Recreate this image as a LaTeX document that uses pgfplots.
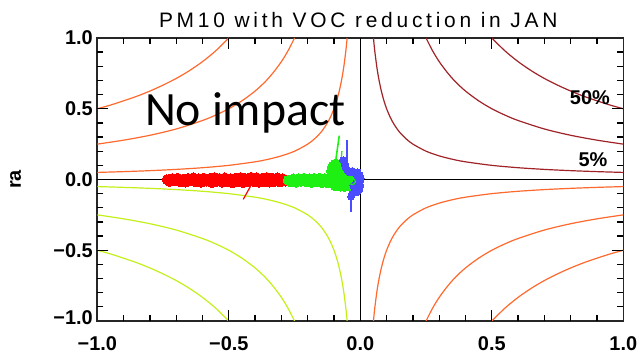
\documentclass[border=0pt]{standalone}
\usepackage{pgfplots}
\pgfplotsset{compat=1.18}
\usepackage{pgfplotstable}
\usepackage{fontspec}
\setmainfont{Liberation Sans}
\newfontfamily\carlito{Carlito}
\definecolor{corange}{RGB}{255,105,45}
\definecolor{cbrown}{RGB}{160,35,40}
\definecolor{cyg}{RGB}{195,240,25}
\definecolor{cred}{RGB}{255,0,0}
\definecolor{cgreen}{RGB}{30,240,20}
\definecolor{cblue}{RGB}{75,75,255}

% contour |xy| = 0.05
\pgfplotstableread{
xp yp xn yn
0.05 1.0 -0.05 -1.0
0.055 0.909 -0.055 -0.909
0.0625 0.8 -0.0625 -0.8
0.07 0.714 -0.07 -0.714
0.08 0.625 -0.08 -0.625
0.09 0.556 -0.09 -0.556
0.1 0.5 -0.1 -0.5
0.115 0.435 -0.115 -0.435
0.13 0.385 -0.13 -0.385
0.15 0.333 -0.15 -0.333
0.175 0.286 -0.175 -0.286
0.2 0.25 -0.2 -0.25
0.25 0.2 -0.25 -0.2
0.3 0.167 -0.3 -0.167
0.35 0.143 -0.35 -0.143
0.4 0.125 -0.4 -0.125
0.5 0.1 -0.5 -0.1
0.6 0.0833 -0.6 -0.0833
0.7 0.0714 -0.7 -0.0714
0.8 0.0625 -0.8 -0.0625
0.9 0.0556 -0.9 -0.0556
1.0 0.05 -1.0 -0.05
}\hA
% contour |xy| = 0.25
\pgfplotstableread{
xp yp xn yn
0.25 1.0 -0.25 -1.0
0.275 0.909 -0.275 -0.909
0.3 0.833 -0.3 -0.833
0.33 0.758 -0.33 -0.758
0.36 0.694 -0.36 -0.694
0.4 0.625 -0.4 -0.625
0.45 0.556 -0.45 -0.556
0.5 0.5 -0.5 -0.5
0.55 0.455 -0.55 -0.455
0.6 0.417 -0.6 -0.417
0.7 0.357 -0.7 -0.357
0.8 0.3125 -0.8 -0.3125
0.9 0.278 -0.9 -0.278
1.0 0.25 -1.0 -0.25
}\hB
% contour |xy| = 0.5
\pgfplotstableread{
xp yp xn yn
0.5 1.0 -0.5 -1.0
0.55 0.909 -0.55 -0.909
0.6 0.833 -0.6 -0.833
0.65 0.769 -0.65 -0.769
0.7 0.714 -0.7 -0.714
0.75 0.667 -0.75 -0.667
0.8 0.625 -0.8 -0.625
0.85 0.588 -0.85 -0.588
0.9 0.556 -0.9 -0.556
0.95 0.526 -0.95 -0.526
1.0 0.5 -1.0 -0.5
}\hC

\pgfplotstableread{
x y
-0.735 0.000
-0.725 -0.015
-0.715 0.008
-0.705 -0.010
-0.695 0.010
-0.685 -0.017
-0.675 0.003
-0.665 -0.020
-0.655 0.008
-0.645 -0.011
-0.635 0.013
-0.625 -0.018
-0.615 0.005
-0.605 -0.021
-0.595 0.011
-0.585 -0.013
-0.575 0.007
-0.565 -0.023
-0.555 0.015
-0.545 -0.015
-0.535 0.009
-0.525 -0.020
-0.515 0.013
-0.505 -0.017
-0.495 0.005
-0.485 -0.025
-0.475 0.011
-0.465 -0.013
-0.455 0.015
-0.445 -0.023
-0.435 0.007
-0.425 -0.019
-0.415 0.017
-0.405 -0.015
-0.395 0.013
-0.385 -0.021
-0.375 0.009
-0.365 -0.017
-0.355 0.015
-0.345 -0.020
-0.335 0.011
-0.325 -0.015
-0.315 0.013
-0.305 -0.019
-0.295 0.007
-0.285 -0.013
}\redpts

\pgfplotstableread{
x y
-0.275 -0.005
-0.265 -0.017
-0.255 0.005
-0.245 -0.020
-0.235 0.007
-0.225 -0.013
-0.215 0.010
-0.205 -0.019
-0.195 0.005
-0.185 -0.023
-0.175 0.009
-0.165 -0.017
-0.155 0.011
-0.145 -0.023
-0.135 0.007
-0.125 -0.025
-0.115 0.013
-0.105 -0.027
-0.095 0.015
-0.085 -0.030
-0.075 0.017
-0.065 -0.025
-0.055 0.010
-0.048 -0.030
-0.110 0.060
-0.105 0.095
-0.095 0.110
-0.085 0.105
-0.075 0.110
-0.068 0.090
-0.062 0.060
-0.090 0.060
-0.080 0.045
-0.070 0.035
-0.058 0.040
-0.045 0.030
-0.040 -0.005
-0.095 -0.045
-0.075 -0.048
-0.060 -0.050
-0.045 -0.045
}\greenpts

\pgfplotstableread{
x y
-0.065 0.135
-0.060 0.110
-0.055 0.085
-0.048 0.060
-0.040 0.050
-0.030 0.060
-0.020 0.045
-0.010 0.050
-0.002 0.030
0.001 0.005
-0.003 -0.020
0.000 -0.045
-0.004 -0.070
-0.012 -0.090
-0.022 -0.075
-0.030 -0.100
-0.035 -0.120
-0.026 -0.045
-0.015 -0.025
-0.010 0.010
}\bluepts

\begin{document}
\begin{tikzpicture}
\begin{axis}[
  at={(0,0)}, anchor=south west,
  scale only axis, width=526bp, height=283bp,
  xmin=-1, xmax=1, ymin=-1, ymax=1,
  xtick={-1,-0.5,0,0.5,1}, ytick={-1,-0.5,0,0.5,1},
  xticklabels={−1.0,−0.5,0.0,0.5,1.0},
  yticklabels={\raisebox{7bp}{−1.0},−0.5,0.0,0.5,\raisebox{-7bp}{1.0}},
  major tick length=0pt, minor tick length=0pt,
  axis line style={black!85, line width=1.6bp},
  ticklabel style={font=\fontsize{20}{24}\selectfont\bfseries},
  xticklabel style={anchor=base, yshift=-29bp},
  yticklabel style={xshift=-1bp},
  clip mode=individual,
]
% quadrant 2 (orange)
\addplot[corange, line width=1.2bp, smooth] table[x=xn, y=yp]{\hA};
\addplot[corange, line width=1.2bp, smooth] table[x=xn, y=yp]{\hB};
\addplot[corange, line width=1.2bp, smooth] table[x=xn, y=yp]{\hC};
% quadrant 1 (brown)
\addplot[cbrown, line width=1.2bp, smooth] table[x=xp, y=yp]{\hA};
\addplot[cbrown, line width=1.2bp, smooth] table[x=xp, y=yp]{\hB};
\addplot[cbrown, line width=1.2bp, smooth] table[x=xp, y=yp]{\hC};
% quadrant 4 (orange)
\addplot[corange, line width=1.2bp, smooth] table[x=xp, y=yn]{\hA};
\addplot[corange, line width=1.2bp, smooth] table[x=xp, y=yn]{\hB};
\addplot[corange, line width=1.2bp, smooth] table[x=xp, y=yn]{\hC};
% quadrant 3 (yellow-green)
\addplot[cyg, line width=1.2bp, smooth] table[x=xn, y=yn]{\hA};
\addplot[cyg, line width=1.2bp, smooth] table[x=xn, y=yn]{\hB};
\addplot[cyg, line width=1.2bp, smooth] table[x=xn, y=yn]{\hC};
% zero lines
\addplot[black, line width=1.2bp] coordinates {(-1,0) (1,0)};
\addplot[black, line width=1.2bp] coordinates {(0,-1) (0,1)};
% tick marks drawn as marks: major bottom/top
\addplot[only marks, mark=|, mark size=5.5bp, mark options={draw=black, line width=1.3bp}] coordinates {
(-0.5,-0.961) (0,-0.961) (0.5,-0.961) (-0.5,0.961) (0.5,0.961)};
% minor bottom/top
\addplot[only marks, mark=|, mark size=3bp, mark options={draw=black, line width=1.3bp}] coordinates {
(-0.9,-0.979) (-0.8,-0.979) (-0.7,-0.979) (-0.6,-0.979) (-0.4,-0.979) (-0.3,-0.979) (-0.2,-0.979) (-0.1,-0.979)
(0.1,-0.979) (0.2,-0.979) (0.3,-0.979) (0.4,-0.979) (0.6,-0.979) (0.7,-0.979) (0.8,-0.979) (0.9,-0.979)
(-0.9,0.979) (-0.8,0.979) (-0.7,0.979) (-0.6,0.979) (-0.4,0.979) (-0.3,0.979) (-0.2,0.979) (-0.1,0.979)
(0.1,0.979) (0.2,0.979) (0.3,0.979) (0.4,0.979) (0.6,0.979) (0.7,0.979) (0.8,0.979) (0.9,0.979)};
% major left/right
\addplot[only marks, mark=-, mark size=5.5bp, mark options={draw=black, line width=1.3bp}] coordinates {
(-0.979,-0.5) (-0.979,0) (-0.979,0.5) (0.979,-0.5) (0.979,0) (0.979,0.5)};
% minor left/right
\addplot[only marks, mark=-, mark size=3bp, mark options={draw=black, line width=1.3bp}] coordinates {
(-0.9886,-0.9) (-0.9886,-0.8) (-0.9886,-0.7) (-0.9886,-0.6) (-0.9886,-0.4) (-0.9886,-0.3) (-0.9886,-0.2) (-0.9886,-0.1)
(-0.9886,0.1) (-0.9886,0.2) (-0.9886,0.3) (-0.9886,0.4) (-0.9886,0.6) (-0.9886,0.7) (-0.9886,0.8) (-0.9886,0.9)
(0.9886,-0.9) (0.9886,-0.8) (0.9886,-0.7) (0.9886,-0.6) (0.9886,-0.4) (0.9886,-0.3) (0.9886,-0.2) (0.9886,-0.1)
(0.9886,0.1) (0.9886,0.2) (0.9886,0.3) (0.9886,0.4) (0.9886,0.6) (0.9886,0.7) (0.9886,0.8) (0.9886,0.9)};
% scatter
\addplot[cred, line width=1.2bp] coordinates {(-0.418,-0.05) (-0.445,-0.14)};
\addplot[cred, only marks, mark=*, mark size=4.8bp, mark options={draw=cred, fill=cred, line width=0pt}] table{\redpts};
\addplot[cgreen, line width=1.6bp] coordinates {(-0.096,0.10) (-0.080,0.31)};
\addplot[cgreen, line width=1.3bp] coordinates {(-0.074,0.10) (-0.070,0.20)};
\addplot[cgreen, only marks, mark=*, mark size=4.8bp, mark options={draw=cgreen, fill=cgreen, line width=0pt}] table{\greenpts};
\addplot[cblue, line width=1.8bp] coordinates {(-0.052,0.12) (-0.052,0.28)};
\addplot[cblue, line width=1.8bp] coordinates {(-0.035,-0.10) (-0.035,-0.23)};
\addplot[cblue, only marks, mark=*, mark size=3.5bp, mark options={draw=cblue, fill=cblue, line width=0pt}] table{\bluepts};
\addplot[cgreen, only marks, mark=o, mark size=3bp, mark options={draw=cgreen, line width=1.2bp}] coordinates {(-0.030,-0.015)};
% texts
\node[anchor=base, inner sep=0pt, xshift=-2bp, yshift=10bp, font=\fontsize{21}{25}\selectfont\addfontfeature{LetterSpace=18}] at (rel axis cs:0.5,1) {PM10 with VOC reduction in JAN};
\node[anchor=base west, inner sep=0pt, font=\carlito\fontsize{48}{56}\selectfont] at (axis cs:-0.819,0.385) {No impact};
\node[inner sep=0pt, font=\fontsize{20}{24}\selectfont\bfseries] at (axis cs:0.873,0.577) {50\%};
\node[inner sep=0pt, font=\fontsize{20}{24}\selectfont\bfseries] at (axis cs:0.885,0.137) {5\%};
\node[inner sep=0pt, rotate=90, font=\fontsize{20}{24}\selectfont\bfseries] at ([xshift=-81.8bp]rel axis cs:0,0.5) {ra};
\end{axis}
\pgfresetboundingbox
\path[use as bounding box] ([xshift=-97.3bp,yshift=-33bp]current axis.south west) rectangle ([xshift=16.7bp,yshift=38bp]current axis.north east);
\end{tikzpicture}
\end{document}
